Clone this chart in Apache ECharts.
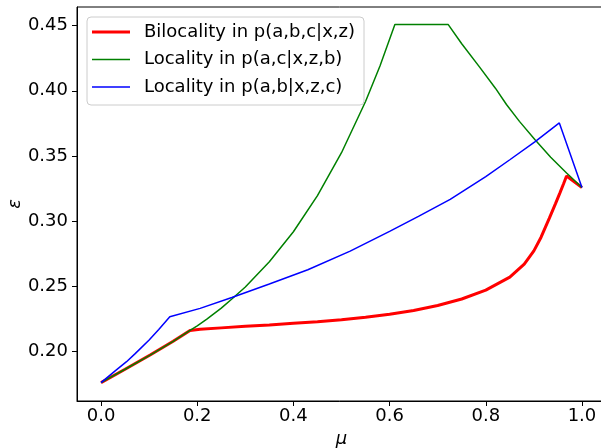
<!DOCTYPE html>
<html>
<head>
<meta charset="utf-8">
<script src="https://cdn.jsdelivr.net/npm/echarts@6/dist/echarts.min.js"></script>
<style>
  html, body { margin: 0; padding: 0; background: #fff; }
  #chart { width: 601px; height: 448px; }
</style>
</head>
<body>
<div id="chart"></div>
<script>
// Bilocality in p(a,b,c|x,z)
const bilocMu  = [0, 0.05, 0.102, 0.15, 0.185, 0.206, 0.25, 0.30, 0.35, 0.40, 0.45, 0.50, 0.55, 0.60, 0.65, 0.70, 0.75, 0.80, 0.85, 0.88, 0.90, 0.915, 0.932, 0.945, 0.954, 0.962, 0.968, 1.0];
const bilocEps = [0.1757, 0.1860, 0.1969, 0.2075, 0.2158, 0.2167, 0.2178, 0.2190, 0.2200, 0.2213, 0.2225, 0.2240, 0.2260, 0.2283, 0.2312, 0.2350, 0.2400, 0.2468, 0.2568, 0.2668, 0.2770, 0.2875, 0.3020, 0.3133, 0.3214, 0.3288, 0.3345, 0.3257];

// Locality in p(a,c|x,z,b)
const locAcMu  = [0, 0.05, 0.102, 0.15, 0.185, 0.20, 0.22, 0.25, 0.272, 0.30, 0.35, 0.40, 0.45, 0.50, 0.55, 0.58, 0.611, 0.722, 0.75, 0.788, 0.82, 0.843, 0.87, 0.902, 0.935, 0.968, 1.0];
const locAcEps = [0.1757, 0.1860, 0.1969, 0.2075, 0.2158, 0.2194, 0.2245, 0.2330, 0.2400, 0.2492, 0.2686, 0.2917, 0.3194, 0.3524, 0.3918, 0.4190, 0.4509, 0.4509, 0.4362, 0.4178, 0.4020, 0.3895, 0.3765, 0.3625, 0.3490, 0.3368, 0.3257];

// Locality in p(a,b|x,z,c)
const locAbMu  = [0, 0.03, 0.053, 0.071, 0.10, 0.12, 0.143, 0.206, 0.272, 0.35, 0.43, 0.518, 0.60, 0.66, 0.726, 0.80, 0.85, 0.902, 0.953, 1.0];
const locAbEps = [0.1757, 0.1850, 0.1918, 0.1980, 0.2085, 0.2165, 0.2263, 0.2328, 0.2412, 0.2515, 0.2625, 0.2768, 0.2920, 0.3035, 0.3165, 0.3340, 0.3470, 0.3608, 0.3753, 0.3257];

const xTicks = [0.0, 0.2, 0.4, 0.6, 0.8, 1.0];
const yTicks = [0.20, 0.25, 0.30, 0.35, 0.40, 0.45];

const seriesNames = ['Bilocality in p(a,b,c|x,z)', 'Locality in p(a,c|x,z,b)', 'Locality in p(a,b|x,z,c)'];
const seriesColors = ['#ff0000', '#008000', '#0000ff'];
const seriesWidths = [3, 1.5, 1.5];

const pairs = (xs, ys) => xs.map((x, i) => [x, ys[i]]);

const FONT = 'DejaVu Sans';
const chart = echarts.init(document.getElementById('chart'), null, { renderer: 'canvas' });

// legend swatch: a flat bar as thick as the series line
const swatch = w => 'path://M0,0 H40 V' + w + ' H0 Z';

chart.setOption({
  animation: false,
  backgroundColor: '#ffffff',
  grid: {
    left: 77, top: 7, width: 529, height: 394,
    outerBoundsMode: 'none',
    containLabel: false,
    show: true, borderColor: '#000', borderWidth: 1, backgroundColor: 'transparent'
  },
  legend: {
    left: 87, top: 17,
    orient: 'vertical',
    padding: [5, 9, 8, 5],
    itemGap: 7.5,
    itemWidth: 38, itemHeight: 14,
    borderColor: '#cccccc', borderWidth: 1, borderRadius: 4,
    backgroundColor: 'rgba(255,255,255,0.8)',
    textStyle: { fontFamily: FONT, fontSize: 18, color: '#000', lineHeight: 20, padding: [0, 0, 0, 9] },
    data: seriesNames.map((n, i) => ({ name: n, icon: swatch(seriesWidths[i] * 40 / 38) }))
  },
  xAxis: {
    type: 'value', min: -0.05, max: 1.05,
    name: 'μ', nameLocation: 'middle', nameGap: 29, nameMoveOverlap: false,
    nameTextStyle: { fontFamily: FONT, fontSize: 18, fontStyle: 'italic', color: '#000' },
    axisLine: { show: true, onZero: false, lineStyle: { color: '#000', width: 1 } },
    axisTick: { show: true, length: 5, customValues: xTicks, lineStyle: { color: '#000' } },
    axisLabel: { customValues: xTicks, margin: 6, fontFamily: FONT, fontSize: 18, color: '#000',
      formatter: v => v.toFixed(1) },
    splitLine: { show: false }
  },
  yAxis: {
    type: 'value', min: 0.1616, max: 0.4644,
    name: 'ε', nameLocation: 'middle', nameGap: 53, nameMoveOverlap: false,
    nameTextStyle: { fontFamily: FONT, fontSize: 18, fontStyle: 'italic', color: '#000' },
    axisLine: { show: true, onZero: false, lineStyle: { color: '#000', width: 1 } },
    axisTick: { show: true, length: 5, customValues: yTicks, lineStyle: { color: '#000' } },
    axisLabel: { customValues: yTicks, margin: 9, fontFamily: FONT, fontSize: 18, color: '#000',
      formatter: v => v.toFixed(2) },
    splitLine: { show: false }
  },
  series: [
    { name: seriesNames[0], type: 'line', data: pairs(bilocMu, bilocEps), showSymbol: false, symbol: 'none',
      color: seriesColors[0], lineStyle: { color: seriesColors[0], width: seriesWidths[0] }, z: 2 },
    { name: seriesNames[1], type: 'line', data: pairs(locAcMu, locAcEps), showSymbol: false, symbol: 'none',
      color: seriesColors[1], lineStyle: { color: seriesColors[1], width: seriesWidths[1] }, z: 3 },
    { name: seriesNames[2], type: 'line', data: pairs(locAbMu, locAbEps), showSymbol: false, symbol: 'none',
      color: seriesColors[2], lineStyle: { color: seriesColors[2], width: seriesWidths[2] }, z: 4 }
  ]
});
</script>
</body>
</html>
